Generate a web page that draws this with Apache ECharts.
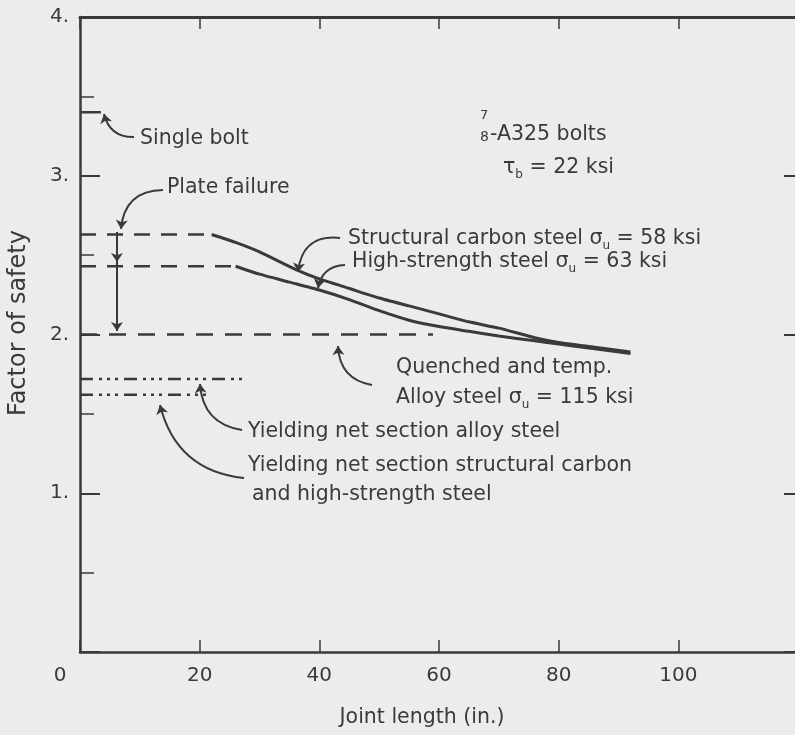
<!DOCTYPE html>
<html><head><meta charset="utf-8">
<script src="https://cdn.jsdelivr.net/npm/echarts@6/dist/echarts.min.js"></script>
<style>html,body{margin:0;padding:0;background:#ececec}#c{width:795px;height:735px}</style>
</head><body><div id="c"></div>
<script>
// ---- data ----
const xTickValues = [0, 20, 40, 60, 80, 100, 120];
const yTickLabels = ['0', '1.', '2.', '3.', '4.'];

const singleBoltX = [0, 3.5];
const singleBoltY = [3.4, 3.4];

const plateStructX = [0, 22];
const plateStructY = [2.63, 2.63];
const structX = [22, 26, 30, 36, 40, 45, 50, 55, 60, 65, 70, 76, 80, 86, 92];
const structY = [2.63, 2.58, 2.52, 2.41, 2.35, 2.29, 2.23, 2.18, 2.13, 2.08, 2.04, 1.98, 1.95, 1.92, 1.89];

const plateHighX = [0, 26];
const plateHighY = [2.43, 2.43];
const highX = [26, 30, 35, 40, 45, 50, 55, 60, 65, 70, 76, 80, 86, 92];
const highY = [2.43, 2.38, 2.33, 2.28, 2.22, 2.15, 2.09, 2.05, 2.02, 1.99, 1.96, 1.94, 1.91, 1.88];

const quenchX = [0, 59];
const quenchY = [2.0, 2.0];

const yieldAlloyX = [0, 27.6];
const yieldAlloyY = [1.72, 1.72];
const yieldCarbonX = [0, 22];
const yieldCarbonY = [1.62, 1.62];

// leader arrows (data coordinates: from -> to)
const leaders = [
  { from: [9.03, 3.244], to: [4.01, 3.389], c: 0.4 },    // Single bolt
  { from: [13.87, 2.91], to: [6.85, 2.665], c: -0.45 },  // Plate failure
  { from: [6.18, 2.646], to: [6.18, 2.457], c: 0 },      // plate failure range
  { from: [6.18, 2.457], to: [6.18, 2.022], c: 0 },
  { from: [43.46, 2.608], to: [36.44, 2.394], c: -0.5 }, // structural
  { from: [44.29, 2.438], to: [39.78, 2.293], c: -0.4 }, // high strength
  { from: [48.8, 1.682], to: [43.12, 1.928], c: 0.4 },   // quenched
  { from: [27.08, 1.398], to: [20.06, 1.688], c: 0.4 },  // yield alloy
  { from: [27.41, 1.096], to: [13.37, 1.556], c: 0.35 }  // yield carbon
];

// ---- chart ----
const ink = '#3a3a3a';
const font = 'DejaVu Sans';
const pts = (xs, ys) => xs.map((x, i) => [x, ys[i]]);
function ls(name, xs, ys, type, width) {
  return {
    name, type: 'line', data: pts(xs, ys), showSymbol: false, symbol: 'none',
    smooth: xs.length > 2 ? 0.2 : false, silent: true,
    lineStyle: { color: ink, width: width, type: type }
  };
}
const dash = [16, 11];
const dashDot = [13, 6, 3, 5, 3, 5, 3, 6];

const chart = echarts.init(document.getElementById('c'), null, { renderer: 'canvas' });

const axisLineStyle = { color: ink, width: 2.5 };
const FS = 20.5;
const baseText = { fontFamily: font, fontSize: FS, fill: ink };
const sub = { fontFamily: font, fontSize: 12, fill: ink, verticalAlign: 'bottom', lineHeight: 22 };
const norm = { fontFamily: font, fontSize: FS, fill: ink, lineHeight: 26 };
function txt(x, y, text, extra) {
  return Object.assign({
    type: 'text', x: x, y: y, silent: true,
    style: Object.assign({ text: text, align: 'left', verticalAlign: 'middle', rich: { n: norm, s: sub } }, baseText)
  }, extra || {});
}

const option = {
  backgroundColor: '#ececec',
  animation: false,
  grid: { left: 80, width: 718, top: 17, height: 635, containLabel: false, outerBoundsMode: 'none' },
  xAxis: [{
    type: 'value', min: 0, max: 120, interval: 20, position: 'bottom',
    axisLine: { show: true, onZero: false, lineStyle: axisLineStyle },
    axisTick: { show: true, inside: true, length: 12, lineStyle: { color: ink, width: 1.5 } },
    splitLine: { show: false },
    axisLabel: {
      margin: 14, color: ink, fontFamily: font, fontSize: 20, showMaxLabel: true,
      formatter: v => v === 0 ? '{z|' + xTickValues[0] + '}' : (v === 120 ? '' : String(v)),
      rich: { z: { padding: [0, 40, 0, 0], fontFamily: font, fontSize: 20, color: ink } }
    }
  }, {
    type: 'value', min: 0, max: 120, interval: 20, position: 'top',
    axisLine: { show: true, onZero: false, lineStyle: { color: ink, width: 3 } },
    axisTick: { show: true, inside: true, length: 12, lineStyle: { color: ink, width: 1.5 } },
    axisLabel: { show: false }, splitLine: { show: false }
  }],
  yAxis: [{
    type: 'value', min: 0, max: 4, interval: 1, position: 'left',
    axisLine: { show: true, onZero: false, lineStyle: axisLineStyle },
    axisTick: { show: true, inside: true, length: 20, lineStyle: { color: ink, width: 2 } },
    minorTick: { show: true, splitNumber: 2, length: 14, lineStyle: { color: ink, width: 1.5 } },
    splitLine: { show: false },
    axisLabel: {
      margin: 11, color: ink, fontFamily: font, fontSize: 20,
      formatter: v => v === 0 ? '' : yTickLabels[Math.round(v)]
    }
  }, {
    type: 'value', min: 0, max: 4, interval: 1, position: 'right',
    axisLine: { show: true, onZero: false, lineStyle: axisLineStyle },
    axisTick: { show: true, inside: true, length: 14, lineStyle: { color: ink, width: 2 } },
    axisLabel: { show: false }, splitLine: { show: false }
  }],
  series: [
    ls('Single bolt', singleBoltX, singleBoltY, 'solid', 2.5),
    ls('Plate failure structural', plateStructX, plateStructY, dash, 2.5),
    ls('Structural carbon steel', structX, structY, 'solid', 3),
    ls('Plate failure high-strength', plateHighX, plateHighY, dash, 2.5),
    ls('High-strength steel', highX, highY, 'solid', 3),
    ls('Quenched and tempered alloy steel', quenchX, quenchY, [17, 12], 2.5),
    ls('Yielding net section alloy steel', yieldAlloyX, yieldAlloyY, dashDot, 2.5),
    ls('Yielding net section structural carbon', yieldCarbonX, yieldCarbonY, dashDot, 2.5),
    {
      type: 'lines', coordinateSystem: 'cartesian2d', xAxisIndex: 0, yAxisIndex: 0, silent: true,
      symbol: ['none', 'arrow'], symbolSize: 9,
      lineStyle: { color: ink, width: 2, opacity: 1 },
      data: leaders.map(l => ({ coords: [l.from, l.to], lineStyle: { curveness: l.c } }))
    }
  ],
  graphic: [
    txt(140, 139, 'Single bolt'),
    txt(167, 188, 'Plate failure'),
    txt(480, 116, '7', { style: Object.assign({ text: '7', align: 'left', verticalAlign: 'middle' }, baseText, { fontSize: 13 }) }),
    txt(480, 137, '8', { style: Object.assign({ text: '8', align: 'left', verticalAlign: 'middle' }, baseText, { fontSize: 14 }) }),
    txt(490, 135, '-A325 bolts'),
    txt(503, 168, '{n|τ}{s|b}{n| = 22 ksi}'),
    txt(348, 239, '{n|Structural carbon steel σ}{s|u}{n| = 58 ksi}'),
    txt(352, 262, '{n|High-strength steel σ}{s|u}{n| = 63 ksi}'),
    txt(396, 368, 'Quenched and temp.'),
    txt(396, 398, '{n|Alloy steel σ}{s|u}{n| = 115 ksi}'),
    txt(248, 432, 'Yielding net section alloy steel'),
    txt(248, 466, 'Yielding net section structural carbon'),
    txt(252, 495, 'and high-strength steel'),
    txt(19, 323, 'Factor of safety', { rotation: Math.PI / 2, style: Object.assign({ text: 'Factor of safety', align: 'center', verticalAlign: 'middle' }, baseText, { fontSize: 24 }) }),
    txt(422, 718, 'Joint length (in.)', { style: Object.assign({ text: 'Joint length (in.)', align: 'center', verticalAlign: 'middle' }, baseText) })
  ]
};
chart.setOption(option);
</script>
</body></html>
